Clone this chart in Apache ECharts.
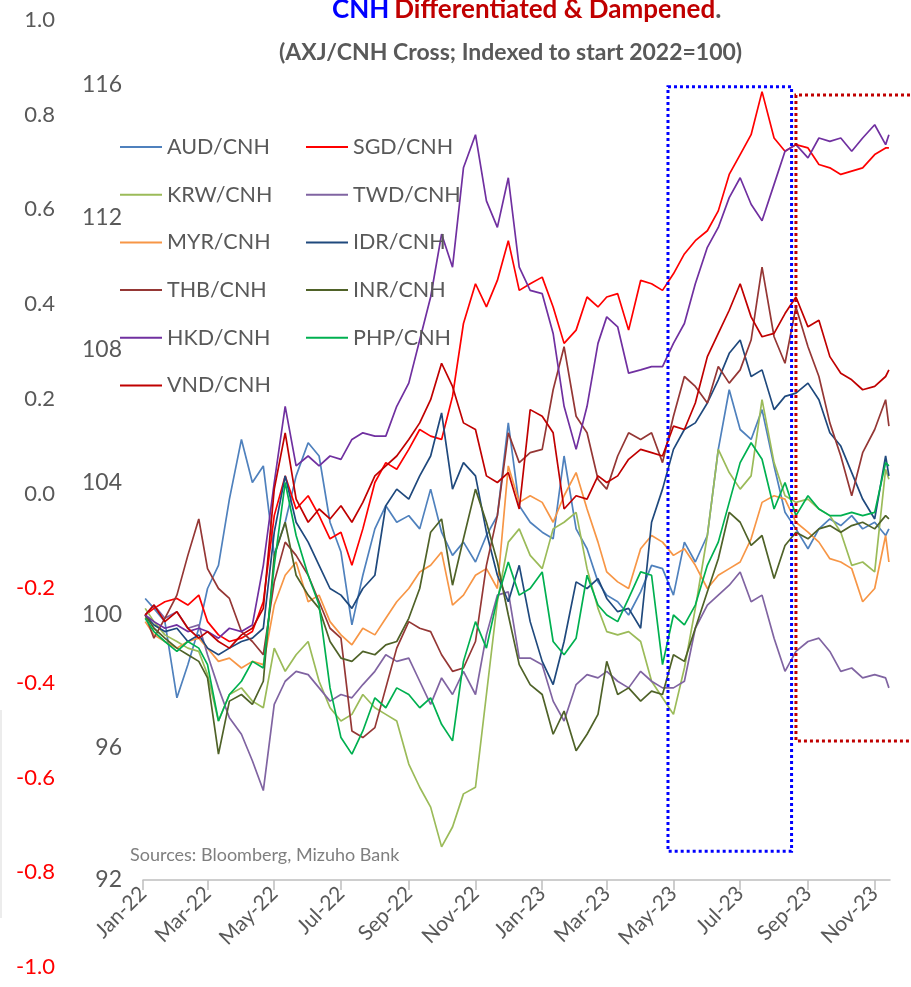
<!DOCTYPE html>
<html>
<head>
<meta charset="utf-8">
<script src="https://cdn.jsdelivr.net/npm/echarts@6/dist/echarts.min.js"></script>
<style>
  html, body { margin: 0; padding: 0; background: #fff; }
  #chart { width: 911px; height: 987px; }
</style>
</head>
<body>
<div id="chart"></div>
<script>
// sample dates (about every 10 days)
var dates = [
  '2022-01-03','2022-01-11','2022-01-21','2022-02-01','2022-02-11','2022-02-21','2022-03-01','2022-03-11','2022-03-21','2022-04-01','2022-04-11','2022-04-21',
  '2022-05-01','2022-05-11','2022-05-21','2022-06-01','2022-06-11','2022-06-21','2022-07-01','2022-07-11','2022-07-21','2022-08-01','2022-08-11','2022-08-21',
  '2022-09-01','2022-09-11','2022-09-21','2022-10-01','2022-10-11','2022-10-21','2022-11-01','2022-11-11','2022-11-21','2022-12-01','2022-12-11','2022-12-21',
  '2023-01-01','2023-01-11','2023-01-21','2023-02-01','2023-02-11','2023-02-21','2023-03-01','2023-03-11','2023-03-21','2023-04-01','2023-04-11','2023-04-21',
  '2023-05-01','2023-05-11','2023-05-21','2023-06-01','2023-06-11','2023-06-21','2023-07-01','2023-07-11','2023-07-21','2023-08-01','2023-08-11','2023-08-21',
  '2023-09-01','2023-09-11','2023-09-21','2023-10-01','2023-10-11','2023-10-21','2023-11-01','2023-11-11','2023-11-14'
];

var aud = [
  100.5,100.2,99.8,97.5,98.5,99.6,100.8,101.5,103.5,105.3,104.0,104.5,
  101.8,102.8,104.2,105.2,104.8,102.8,101.9,99.7,101.2,102.6,103.3,102.8,
  103.0,102.6,103.8,102.5,101.8,102.2,101.6,102.4,103.0,105.8,103.3,102.8,
  102.5,102.3,104.8,102.6,102.0,101.0,100.6,100.4,100.0,100.7,101.5,101.4,
  100.6,102.2,101.6,102.4,105.0,106.8,105.6,105.3,106.2,104.5,103.1,102.6,
  102.0,102.6,102.9,102.7,103.0,102.6,102.8,102.4,102.6
];
var sgd = [
  100.0,100.2,100.4,100.5,100.3,100.6,99.8,99.4,99.2,99.3,99.5,100.4,
  103.0,104.2,103.2,103.6,103.0,102.3,102.5,101.5,102.6,104.0,104.6,104.4,
  105.0,105.6,105.4,105.3,106.6,108.8,110.0,109.3,110.1,111.3,109.8,110.0,
  110.2,109.3,108.2,108.6,109.6,109.3,109.6,109.7,108.6,110.1,110.0,109.8,
  110.3,110.9,111.3,111.6,112.2,113.3,113.9,114.5,115.8,114.4,114.0,114.2,
  114.1,113.6,113.5,113.3,113.4,113.5,113.9,114.1,114.1
];
var krw = [
  100.2,99.8,99.4,99.2,99.0,98.9,98.2,96.8,97.6,97.8,97.4,97.2,
  99.0,98.3,98.8,99.2,98.0,97.2,96.8,97.0,97.6,97.2,97.0,96.8,
  95.5,94.8,94.2,93.0,93.6,94.6,94.8,97.6,100.4,102.2,102.6,101.8,
  101.4,102.6,102.8,103.1,101.4,100.2,99.5,99.4,99.5,99.2,98.0,97.5,
  97.0,98.4,100.2,102.4,105.0,104.3,103.8,104.2,106.5,104.6,103.6,103.4,
  103.5,103.2,103.0,102.5,101.5,101.6,101.3,104.4,104.1
];
var twd = [
  100.0,100.3,99.9,100.1,99.6,99.7,98.8,97.8,96.9,96.4,95.6,94.7,
  97.3,98.0,98.3,98.2,97.8,97.4,97.6,97.5,97.9,98.3,98.8,98.6,
  98.7,98.0,97.3,98.1,97.6,98.3,97.6,99.4,100.6,100.7,98.7,98.7,
  98.5,97.4,96.8,97.9,98.2,98.1,98.3,98.0,97.8,98.3,98.0,97.8,
  97.8,98.0,99.6,100.3,100.6,100.9,101.3,100.4,100.6,99.3,98.3,98.9,
  99.2,99.3,98.9,98.3,98.4,98.1,98.2,98.1,97.8
];
var myr = [
  99.8,99.4,99.2,99.0,99.2,99.3,99.0,98.6,98.7,98.4,98.6,98.5,
  100.3,101.2,101.6,100.4,100.6,99.8,99.4,99.1,99.6,99.4,99.9,100.4,
  100.8,101.3,101.5,101.9,100.3,100.6,101.2,101.4,100.8,104.5,103.4,103.6,
  103.4,102.8,103.6,104.3,103.2,102.2,101.3,101.0,100.8,102.0,102.4,102.2,
  101.8,102.0,101.5,100.8,101.2,101.4,101.6,102.3,103.4,103.6,103.5,102.8,
  102.5,102.2,101.7,101.6,101.4,100.4,100.8,102.4,101.6
];
var idr = [
  100.0,99.7,99.5,99.6,99.2,99.4,99.0,98.8,99.0,99.2,99.3,99.6,
  102.5,104.2,102.8,102.2,101.5,100.8,100.6,100.2,100.8,101.2,103.3,103.8,
  103.5,104.2,104.8,106.1,103.8,104.6,104.2,102.5,101.2,100.4,101.5,99.8,
  98.6,97.9,99.2,101.0,100.8,101.1,100.5,100.1,100.2,99.6,102.8,103.8,
  105.0,105.6,105.8,106.4,107.1,107.9,108.3,107.2,107.4,106.2,106.6,106.7,
  107.0,106.5,105.5,105.1,104.3,103.5,102.9,104.8,104.2
];
var thb = [
  100.0,99.3,99.9,100.6,101.8,102.9,101.4,100.8,100.5,99.5,99.2,98.8,
  101.0,102.2,101.8,101.2,100.4,99.6,99.3,96.5,96.3,96.6,97.8,99.0,
  99.8,99.6,99.5,98.8,98.3,98.4,99.2,101.5,103.0,105.5,104.6,104.9,
  105.0,106.8,108.1,106.0,105.5,104.1,103.8,104.8,105.5,105.3,105.5,104.6,
  106.0,107.2,106.9,106.4,107.5,107.0,107.4,108.3,110.5,108.4,107.6,109.3,
  108.1,107.2,105.8,104.8,103.6,104.9,105.6,106.5,105.7
];
var inr = [
  100.0,99.6,99.3,99.0,98.8,98.6,98.1,95.8,97.4,97.6,97.3,98.0,
  101.8,102.8,101.2,100.6,100.2,99.2,98.7,98.6,98.9,98.8,99.1,99.2,
  99.9,100.8,102.5,102.9,100.9,102.3,103.8,102.8,101.6,100.0,98.5,97.9,
  97.6,96.4,97.1,95.9,96.4,97.0,98.6,97.6,97.8,97.4,97.7,97.6,
  98.8,98.6,99.6,100.7,101.7,103.1,102.8,102.1,102.4,101.1,102.1,102.5,
  102.3,102.6,102.7,102.5,102.7,102.8,102.6,103.0,102.9
];
var hkd = [
  100.0,99.8,99.6,99.7,99.5,99.6,99.5,99.3,99.6,99.5,99.7,101.5,
  104.0,106.3,104.5,104.8,104.5,104.8,104.7,105.3,105.5,105.4,105.4,106.3,
  107.0,108.3,109.6,111.5,110.5,113.5,114.5,112.5,111.7,113.2,110.5,109.8,
  109.7,108.5,106.3,105.0,106.3,108.2,109.0,108.7,107.3,107.4,107.5,107.5,
  108.2,108.8,110.0,111.1,111.7,112.6,113.2,112.4,111.9,113.0,114.0,114.2,
  113.8,114.4,114.3,114.4,114.0,114.4,114.8,114.2,114.5
];
var php = [
  99.9,99.5,99.2,98.9,99.2,99.0,98.5,96.8,97.6,98.0,98.6,98.4,
  101.5,104.0,102.4,101.2,100.3,97.8,96.3,95.8,96.5,97.5,97.2,97.8,
  97.6,97.2,97.5,96.7,96.2,98.6,99.8,99.0,100.5,101.6,100.6,100.8,
  101.3,99.2,98.8,99.3,101.2,100.3,100.0,99.8,100.5,101.3,101.2,98.5,
  100.0,99.7,100.3,101.5,102.2,103.4,104.6,105.2,104.7,103.2,104.0,103.0,
  103.6,103.2,103.0,103.0,103.1,103.0,103.1,104.6,104.5
];
var vnd = [
  100.0,100.3,99.8,100.1,99.6,99.3,99.5,99.2,99.0,99.4,99.6,100.2,
  103.8,105.5,103.5,102.8,103.2,102.9,103.3,102.8,103.4,104.2,104.5,104.8,
  105.3,105.8,106.5,107.6,106.9,105.8,105.6,104.2,104.0,104.3,103.2,106.2,
  106.0,105.5,103.2,103.6,103.5,104.2,104.0,104.2,104.7,105.0,104.9,104.8,
  105.7,105.6,106.4,107.8,108.5,109.2,110.0,109.0,108.4,108.5,109.1,109.6,
  108.7,108.9,107.8,107.3,107.1,106.8,106.9,107.2,107.4
];

var tickDates = ['2022-01-01','2022-03-01','2022-05-01','2022-07-01','2022-09-01','2022-11-01',
                 '2023-01-01','2023-03-01','2023-05-01','2023-07-01','2023-09-01','2023-11-01'];

// highlight boxes (data coords)
var blueBox = { from: '2023-04-26', to: '2023-08-17', hi: 115.95, lo: 92.87 };
var redBox = { from: '2023-08-21', hi: 115.7, lo: 96.2 };

var FONT = 'Lato, "Open Sans", sans-serif';
var GREY = '#595959';

var seriesDefs = [
  { name: 'AUD/CNH', data: aud, color: '#4F81BD' },
  { name: 'SGD/CNH', data: sgd, color: '#FF0000' },
  { name: 'KRW/CNH', data: krw, color: '#9BBB59' },
  { name: 'TWD/CNH', data: twd, color: '#8064A2' },
  { name: 'MYR/CNH', data: myr, color: '#F79646' },
  { name: 'IDR/CNH', data: idr, color: '#1F497D' },
  { name: 'THB/CNH', data: thb, color: '#953735' },
  { name: 'INR/CNH', data: inr, color: '#4F6228' },
  { name: 'HKD/CNH', data: hkd, color: '#7030A0' },
  { name: 'PHP/CNH', data: php, color: '#00B050' },
  { name: 'VND/CNH', data: vnd, color: '#C00000' }
];

var chart = echarts.init(document.getElementById('chart'));

var legendBase = {
  orient: 'vertical',
  icon: 'rect',
  itemWidth: 42,
  itemHeight: 2,
  itemGap: 21.7,
  top: 129,
  textStyle: { fontFamily: FONT, fontSize: 21.5, color: GREY, lineHeight: 26 }
};

var option = {
  animation: false,
  backgroundColor: '#fff',
  title: [
    {
      text: '{a|CNH} {b|Differentiated & Dampened}{c|.}',
      left: 327, top: -8,
      textStyle: {
        rich: {
          a: { color: '#0000FF', fontSize: 26, fontWeight: 'bold', fontFamily: FONT },
          b: { color: '#C00000', fontSize: 26, fontWeight: 'bold', fontFamily: FONT },
          c: { color: GREY, fontSize: 26, fontWeight: 'bold', fontFamily: FONT }
        }
      }
    },
    {
      text: '(AXJ/CNH Cross; Indexed to start 2022=100)',
      left: 274, top: 36,
      textStyle: { color: GREY, fontSize: 23, fontWeight: 'bold', fontFamily: FONT }
    }
  ],
  legend: [
    Object.assign({}, legendBase, { left: 115, data: ['AUD/CNH', 'KRW/CNH', 'MYR/CNH', 'THB/CNH', 'HKD/CNH', 'VND/CNH'] }),
    Object.assign({}, legendBase, { left: 301, data: ['SGD/CNH', 'TWD/CNH', 'IDR/CNH', 'INR/CNH', 'PHP/CNH'] })
  ],
  grid: [
    { left: 143, right: 21, top: 85, bottom: 107 },
    { left: 63, right: 840, top: 20, bottom: 20 }
  ],
  xAxis: [
    {
      type: 'time', gridIndex: 0,
      min: '2022-01-01', max: '2023-11-15',
      axisLine: { lineStyle: { color: '#BFBFBF', width: 1.5 } },
      axisTick: { show: true, length: 10, lineStyle: { color: '#BFBFBF', width: 1.5 },
        customValues: tickDates.map(function (d) { return +echarts.time.parse(d); }) },
      axisLabel: {
        rotate: 45, fontFamily: FONT, fontSize: 21, color: GREY, margin: 10,
        customValues: tickDates.map(function (d) { return +echarts.time.parse(d); }),
        formatter: '{MMM}-{yy}'
      },
      splitLine: { show: false }
    },
    { type: 'value', gridIndex: 1, show: false }
  ],
  yAxis: [
    {
      type: 'value', gridIndex: 0, min: 92, max: 116, interval: 4,
      axisLine: { show: false }, axisTick: { show: false }, splitLine: { show: false },
      axisLabel: { fontFamily: FONT, fontSize: 23, color: GREY, margin: 21 }
    },
    {
      type: 'value', gridIndex: 1, min: -1, max: 1, interval: 0.2,
      axisLine: { show: false }, axisTick: { show: false }, splitLine: { show: false },
      axisLabel: {
        fontFamily: FONT, fontSize: 22, margin: 8,
        formatter: function (v) { return Math.abs(v) < 1e-9 ? '0.0' : v.toFixed(1); },
        color: function (v) { return v < -1e-9 ? '#FF0000' : GREY; }
      }
    }
  ],
  series: seriesDefs.map(function (s) {
    return {
      name: s.name, type: 'line', xAxisIndex: 0, yAxisIndex: 0,
      showSymbol: false, symbol: 'none',
      color: s.color,
      lineStyle: { color: s.color, width: 1.7 },
      data: dates.map(function (d, i) { return [d, s.data[i]]; })
    };
  })
};

chart.setOption(option);

// annotation boxes placed through the chart's own scales
var b1 = chart.convertToPixel({ gridIndex: 0 }, [blueBox.from, blueBox.hi]);
var b2 = chart.convertToPixel({ gridIndex: 0 }, [blueBox.to, blueBox.lo]);
var r1 = chart.convertToPixel({ gridIndex: 0 }, [redBox.from, redBox.hi]);
var r2 = chart.convertToPixel({ gridIndex: 0 }, [redBox.from, redBox.lo]);
var W = chart.getWidth();

chart.setOption({
  graphic: [
    {
      type: 'rect', z: 100,
      shape: { x: b1[0], y: b1[1], width: b2[0] - b1[0], height: b2[1] - b1[1] },
      style: { fill: 'none', stroke: '#0000FF', lineWidth: 3, lineDash: [3, 3] }
    },
    {
      type: 'polyline', z: 100,
      shape: { points: [[W + 5, r1[1]], [r1[0], r1[1]], [r2[0], r2[1]], [W + 5, r2[1]]] },
      style: { fill: 'none', stroke: '#C00000', lineWidth: 3, lineDash: [3, 3] }
    },
    {
      type: 'text', left: 130, top: 846,
      style: { text: 'Sources: Bloomberg, Mizuho Bank', fill: '#7F7F7F', font: '18px ' + FONT }
    },
    {
      type: 'line', shape: { x1: 1, y1: 710, x2: 1, y2: 918 },
      style: { stroke: '#D9D9D9', lineWidth: 1 }
    }
  ]
});
</script>
</body>
</html>
